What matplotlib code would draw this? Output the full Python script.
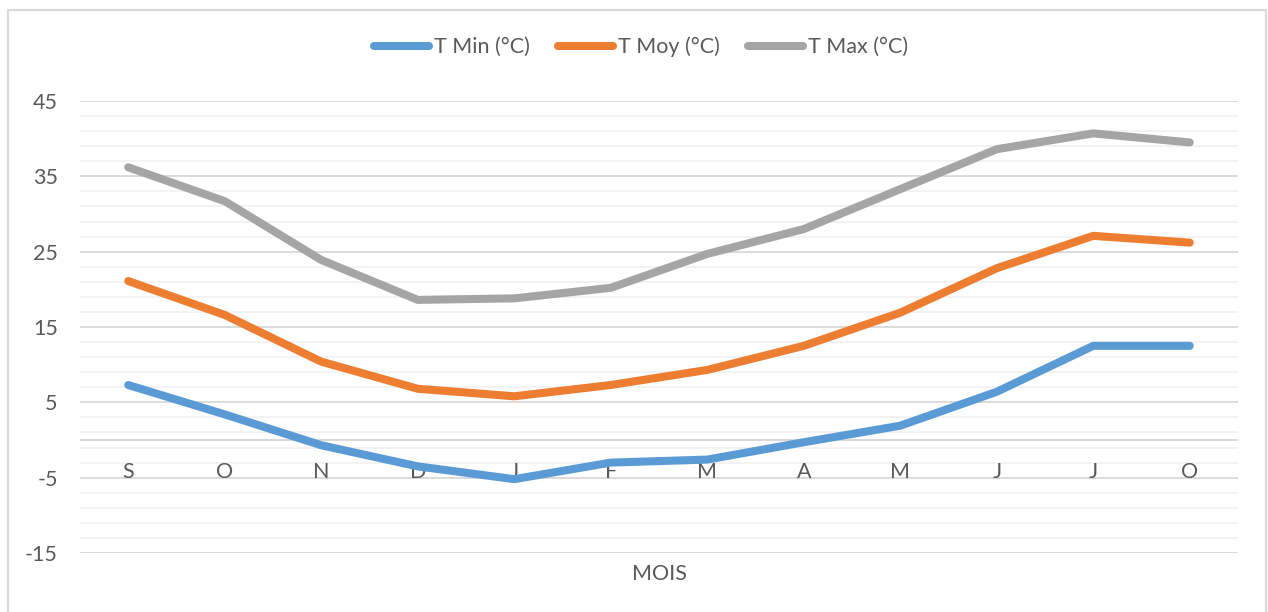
import matplotlib
matplotlib.use("Agg")
import matplotlib.pyplot as plt
from matplotlib.patches import Rectangle
import numpy as np

months = ["S", "O", "N", "D", "J", "F", "M", "A", "M", "J", "J", "O"]
t_min = [7.3, 3.4, -0.7, -3.5, -5.2, -3.0, -2.6, -0.3, 1.9, 6.4, 12.5, 12.5]
t_moy = [21.1, 16.6, 10.4, 6.8, 5.8, 7.3, 9.3, 12.5, 16.9, 22.8, 27.1, 26.2]
t_max = [36.2, 31.7, 23.9, 18.6, 18.8, 20.2, 24.7, 28.0, 33.3, 38.6, 40.7, 39.5]
series_labels = ["T Min (°C)", "T Moy (°C)", "T Max (°C)"]
colors = ["#5B9BD5", "#ED7D31", "#A5A5A5"]
y_major = [-15, -5, 5, 15, 25, 35, 45]

plt.rcParams['font.family'] = ['Lato', 'DejaVu Sans']
plt.rcParams['axes.unicode_minus'] = False
TXT = "#595959"
FS = 15.5
W, H = 1268, 612
fig = plt.figure(figsize=(W / 100, H / 100), dpi=100)
fig.patch.set_facecolor("white")

# chart border
fig.add_artist(Rectangle((8 / W, -0.05), (1266 - 8) / W, 1.05 - 10 / H,
                         transform=fig.transFigure, fill=False,
                         edgecolor="#D9D9D9", linewidth=1.5))

left, right = 80 / W, 1238 / W
bottom, top = 1 - 553 / H, 1 - 101 / H
ax = fig.add_axes([left, bottom, right - left, top - bottom])

x = np.arange(len(months))

ax.set_xlim(-0.5, len(months) - 0.5)
ax.set_ylim(-15, 45)
ax.set_yticks(y_major)
ax.set_yticks(np.arange(-15, 46, 2), minor=True)
ax.grid(axis='y', which='minor', color="#F2F2F2", lw=1.3, zorder=0)
ax.grid(axis='y', which='major', color="#D9D9D9", lw=1.3, zorder=1)
ax.axhline(0, color="#D9D9D9", lw=1.5, zorder=2)

ax.set_xticks(x)
ax.set_xticklabels([])
for s in ["top", "right", "left", "bottom"]:
    ax.spines[s].set_visible(False)
ax.tick_params(axis='x', length=0)
ax.tick_params(axis='y', which='both', length=0, pad=16, labelsize=FS, labelcolor=TXT)

# category labels next to the zero line
for xi, m in zip(x, months):
    ax.annotate(m, xy=(xi, 0), xytext=(0, -16), textcoords='offset points',
                ha='center', va='top', fontsize=FS, color=TXT,
                annotation_clip=False, zorder=2.6)

for vals, lab, col in zip([t_min, t_moy, t_max], series_labels, colors):
    ax.plot(x, vals, color=col, lw=5.8, label=lab,
            solid_capstyle='round', solid_joinstyle='round', zorder=3)

fig.text((80 + 1238) / 2 / W, 1 - 573.5 / H, "MOIS", ha='center', va='center',
         fontsize=FS, color=TXT)

fig.legend(loc='center', bbox_to_anchor=(641 / W, 1 - 47 / H), ncol=3,
           frameon=False, fontsize=FS, handlelength=2.55,
           handletextpad=0.23, columnspacing=1.3, labelcolor=TXT)

fig.savefig("out.png", dpi=100)
